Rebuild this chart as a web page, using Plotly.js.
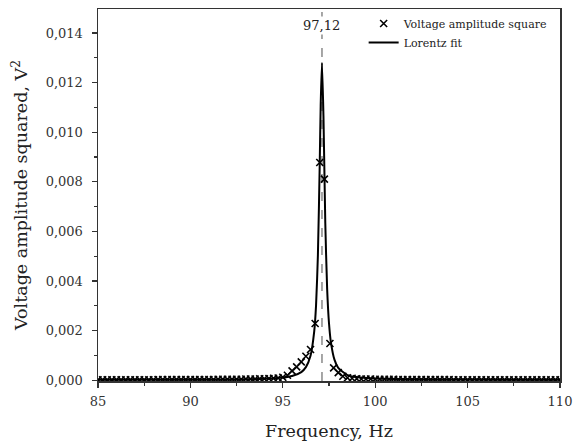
<!DOCTYPE html>
<html>
<head>
<meta charset="utf-8">
<script src="https://cdn.plot.ly/plotly-3.0.1.min.js"></script>
<style>html,body{margin:0;padding:0;background:#fff;}#chart{width:573px;height:446px;}</style>
</head>
<body>
<div id="chart"></div>
<script>
// Measured points (Hz, V^2)
const freqMeasured = [
  85.00, 85.25, 85.50, 85.75, 86.00, 86.25, 86.50, 86.75, 87.00, 87.25,
  87.50, 87.75, 88.00, 88.25, 88.50, 88.75, 89.00, 89.25, 89.50, 89.75,
  90.00, 90.25, 90.50, 90.75, 91.00, 91.25, 91.50, 91.75, 92.00, 92.25,
  92.50, 92.75, 93.00, 93.25, 93.50, 93.75, 94.00, 94.25, 94.50, 94.75,
  95.00, 95.25, 95.50, 95.75, 96.00, 96.25, 96.50, 96.75, 97.00, 97.25,
  97.55, 97.75, 98.00, 98.25, 98.50, 98.75, 99.00, 99.25, 99.50, 99.75,
  100.00, 100.25, 100.50, 100.75, 101.00, 101.25, 101.50, 101.75, 102.00, 102.25,
  102.50, 102.75, 103.00, 103.25, 103.50, 103.75, 104.00, 104.25, 104.50, 104.75,
  105.00, 105.25, 105.50, 105.75, 106.00, 106.25, 106.50, 106.75, 107.00, 107.25,
  107.50, 107.75, 108.00, 108.25, 108.50, 108.75, 109.00, 109.25, 109.50, 109.75,
  110.00
];
const ampSquared = [
  0.00002, 0.00002, 0.00002, 0.00002, 0.00002, 0.00002, 0.00002, 0.00002, 0.00002, 0.00002,
  0.00002, 0.00002, 0.00002, 0.00003, 0.00003, 0.00003, 0.00003, 0.00003, 0.00003, 0.00003,
  0.00003, 0.00003, 0.00003, 0.00003, 0.00003, 0.00003, 0.00004, 0.00004, 0.00004, 0.00004,
  0.00004, 0.00004, 0.00005, 0.00005, 0.00005, 0.00006, 0.00006, 0.00007, 0.00008, 0.00009,
  0.00012, 0.00020, 0.00038, 0.00054, 0.00074, 0.00097, 0.00124, 0.00229, 0.00878, 0.00811,
  0.00148, 0.00050, 0.00031, 0.00016, 0.00010, 0.00008, 0.00006, 0.00005, 0.00005, 0.00005,
  0.00004, 0.00004, 0.00004, 0.00004, 0.00004, 0.00003, 0.00003, 0.00003, 0.00003, 0.00003,
  0.00003, 0.00003, 0.00003, 0.00003, 0.00003, 0.00003, 0.00003, 0.00002, 0.00002, 0.00002,
  0.00002, 0.00002, 0.00002, 0.00002, 0.00002, 0.00002, 0.00002, 0.00002, 0.00002, 0.00002,
  0.00002, 0.00002, 0.00002, 0.00002, 0.00002, 0.00002, 0.00002, 0.00002, 0.00002, 0.00002,
  0.00002
];
// Lorentz fit curve
const freqFit = [85, 90, 93, 94, 95, 95.5, 96, 96.25, 96.5, 96.7, 96.8, 96.9, 97.0, 97.05, 97.12,
  97.2, 97.3, 97.4, 97.5, 97.6, 97.8, 98.0, 98.5, 99, 100, 102, 105, 110];
const ampFit = [0.00002, 0.000028, 0.000044, 0.00006, 0.00011, 0.00017, 0.00033, 0.00053, 0.00099,
  0.00197, 0.00303, 0.00506, 0.0088, 0.01108, 0.0128, 0.01065, 0.00633, 0.00368, 0.0023, 0.00155,
  0.00082, 0.0005, 0.00021, 0.00013, 0.00007, 0.00004, 0.000027, 0.00002];
const peakFreq = 97.12;
const peakLabel = "97,12";
const xTicks = [85, 90, 95, 100, 105, 110];
const yTicks = [0, 0.002, 0.004, 0.006, 0.008, 0.010, 0.012, 0.014];

const FONT = "DejaVu Serif, Liberation Serif, serif";

const traces = [
  {
    x: freqMeasured, y: ampSquared, type: "scatter", mode: "markers",
    name: "Voltage amplitude square",
    marker: {symbol: "x-thin-open", size: 7, color: "#000", line: {color: "#000", width: 1.6}}
  },
  {
    x: freqFit, y: ampFit, type: "scatter", mode: "lines",
    name: "Lorentz fit",
    line: {color: "#000", width: 2, shape: "spline", smoothing: 0.6}
  }
];

const layout = {
  width: 573, height: 446,
  margin: {l: 98, r: 13, t: 9, b: 65},
  paper_bgcolor: "#fff", plot_bgcolor: "#fff",
  separators: ", ",
  font: {family: FONT, color: "#222", size: 13},
  showlegend: true,
  legend: {x: 0.575, y: 1.0, xanchor: "left", yanchor: "top", bgcolor: "rgba(0,0,0,0)",
    font: {family: FONT, size: 11, color: "#222"}, tracegroupgap: 0, itemwidth: 30},
  xaxis: {
    range: [85, 110], tickvals: xTicks, ticktext: xTicks.map(String),
    ticks: "outside", ticklen: 5, tickwidth: 1.2, tickcolor: "#333",
    ticklabelstandoff: 3,
    minor: {dtick: 2.5, tick0: 85, ticks: "outside", ticklen: 3, tickwidth: 1.2, tickcolor: "#333", showgrid: false},
    showline: true, linecolor: "#333", linewidth: 1.5, mirror: true,
    showgrid: false, zeroline: false,
    tickfont: {family: FONT, size: 13, color: "#333"},
    title: {text: "Frequency, Hz", font: {family: FONT, size: 17.5, color: "#222"}, standoff: 16}
  },
  yaxis: {
    range: [-0.00003, 0.01497], tickvals: yTicks, tickformat: ".3f",
    ticks: "outside", ticklen: 5, tickwidth: 1.2, tickcolor: "#333",
    ticklabelstandoff: 6,
    minor: {dtick: 0.001, tick0: 0, ticks: "outside", ticklen: 3, tickwidth: 1.2, tickcolor: "#333", showgrid: false},
    showline: true, linecolor: "#333", linewidth: 1.5, mirror: true,
    showgrid: false, zeroline: false,
    tickfont: {family: FONT, size: 13, color: "#333"},
    title: {text: "Voltage amplitude squared, V<sup>2</sup>", font: {family: FONT, size: 17.5, color: "#222"}, standoff: 13}
  },
  shapes: [
    {type: "line", xref: "x", yref: "paper", x0: peakFreq, x1: peakFreq, y0: 0, y1: 1,
     line: {color: "#777", width: 1.3, dash: "dash"}, layer: "below"}
  ],
  annotations: [
    {xref: "x", yref: "paper", x: peakFreq, y: 0.955, text: peakLabel, showarrow: false,
     xanchor: "center", yanchor: "middle", bgcolor: "#fff", borderpad: 1,
     font: {family: FONT, size: 13, color: "#222"}}
  ]
};

Plotly.newPlot("chart", traces, layout, {displayModeBar: false, staticPlot: true});
</script>
</body>
</html>
